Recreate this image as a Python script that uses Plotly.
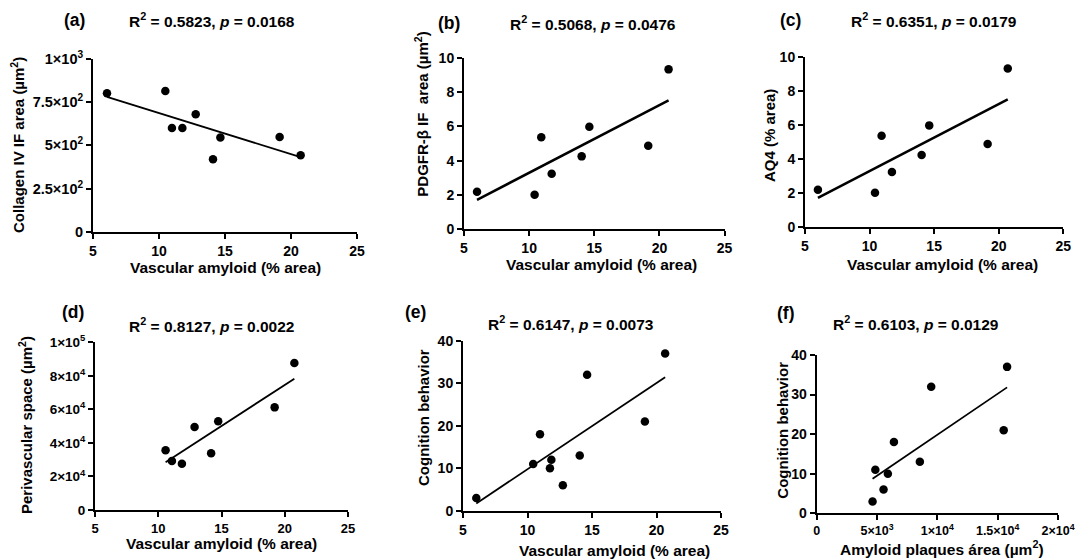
import numpy as np
import plotly.graph_objects as go

W, H = 1078, 560

# ---------------- data ----------------
vasc_a = [6.06, 10.48, 10.98, 11.77, 12.78, 14.09, 14.65, 19.14, 20.73]
collagen = [800, 814, 600, 600, 680, 420, 545, 548, 443]

vasc_b = [6.0, 10.42, 10.93, 11.73, 14.03, 14.62, 19.14, 20.7]
pdgfr = [2.19, 2.02, 5.36, 3.24, 4.25, 5.98, 4.87, 9.32]

vasc_c = [6.0, 10.42, 10.93, 11.73, 14.03, 14.62, 19.14, 20.7]
aq4 = [2.18, 2.0, 5.35, 3.22, 4.22, 5.96, 4.86, 9.3]

vasc_d = [10.58, 11.08, 11.87, 12.87, 14.18, 14.74, 19.2, 20.76]
perivascular = [35600, 29200, 27600, 49500, 33800, 52900, 61200, 87700]

vasc_e = [6.03, 10.44, 10.97, 11.74, 11.85, 12.74, 14.05, 14.62, 19.1, 20.67]
cognition_e = [3, 11, 18, 10, 12, 6, 13, 32, 21, 37]

plaques_f = [4630, 4860, 5540, 5900, 6400, 8550, 9490, 15500, 15780]
cognition_f = [3, 11, 6, 10, 18, 13, 32, 21, 37]

vasc_ticks = [5, 10, 15, 20, 25]
ticks_a = [0, 250, 500, 750, 1000]
ticklabels_a = ["0", "2.5×10<sup>2</sup>", "5×10<sup>2</sup>", "7.5×10<sup>2</sup>", "1×10<sup>3</sup>"]
ticks_10 = [0, 2, 4, 6, 8, 10]
ticks_d = [0, 20000, 40000, 60000, 80000, 100000]
ticklabels_d = ["0", "2×10<sup>4</sup>", "4×10<sup>4</sup>", "6×10<sup>4</sup>", "8×10<sup>4</sup>", "1×10<sup>5</sup>"]
ticks_40 = [0, 10, 20, 30, 40]
ticks_f = [0, 5000, 10000, 15000, 20000]
ticklabels_f = ["0", "5×10<sup>3</sup>", "1×10<sup>4</sup>", "1.5×10<sup>4</sup>", "2×10<sup>4</sup>"]

stats = ["R<sup>2</sup> = 0.5823, <i>p</i> = 0.0168",
         "R<sup>2</sup> = 0.5068, <i>p</i> = 0.0476",
         "R<sup>2</sup> = 0.6351, <i>p</i> = 0.0179",
         "R<sup>2</sup> = 0.8127, <i>p</i> = 0.0022",
         "R<sup>2</sup> = 0.6147, <i>p</i> = 0.0073",
         "R<sup>2</sup> = 0.6103, <i>p</i> = 0.0129"]
letters = ["(a)", "(b)", "(c)", "(d)", "(e)", "(f)"]
xtitles = ["Vascular amyloid (% area)"] * 5 + ["Amyloid plaques área (µm<sup>2</sup>)"]
ytitles = ["Collagen IV IF area (µm<sup>2</sup>)",
           "PDGFR-β IF  area (µm<sup>2</sup>)",
           "AQ4 (% area)",
           "Perivascular space (µm<sup>2</sup>)",
           "Cognition behavior",
           "Cognition behavior"]

# ---------------- layout geometry (pixels) ----------------
# plot area: (left, right, top, bottom)
boxes = [(93, 357, 58.7, 232), (464, 724.6, 57.7, 229.3), (805, 1063.3, 56.7, 226.7),
         (95, 348, 342.3, 510), (463, 721, 340.7, 510.7), (816.7, 1058, 355, 513.3)]
letter_pos = [(74, 20), (449, 23), (790, 20), (72.5, 311.7), (415.8, 311.7), (785.8, 313)]
stat_pos = [(211.7, 20), (593, 23), (934, 20), (211.7, 325), (570.8, 322.7), (915.8, 323)]
xt_pos = [(225, 267), (601, 264), (942.5, 264), (221.7, 543), (614, 550), (942.5, 548)]
yt_pos = [(18, 145), (421.7, 114), (769, 136), (25, 425), (423, 418), (781.7, 430)]
xtick_size = [14, 14, 14, 13, 14, 12.5]
ytick_size = [14.5, 14, 14, 13.5, 14, 14]
fit_width = [1.8, 2.5, 2.5, 1.8, 1.8, 1.8]

panels = [
    (vasc_a, collagen, [5, 25], vasc_ticks, None, [0, 1000], ticks_a, ticklabels_a),
    (vasc_b, pdgfr, [5, 25], vasc_ticks, None, [0, 10], ticks_10, None),
    (vasc_c, aq4, [5, 25], vasc_ticks, None, [0, 10], ticks_10, None),
    (vasc_d, perivascular, [5, 25], vasc_ticks, None, [0, 100000], ticks_d, ticklabels_d),
    (vasc_e, cognition_e, [5, 25], vasc_ticks, None, [0, 40], ticks_40, None),
    (plaques_f, cognition_f, [0, 20000], ticks_f, ticklabels_f, [0, 40], ticks_40, None),
]

FONT = "Arial, Liberation Sans, sans-serif"

def px_x(p):
    return p / W

def px_y(p):
    return 1 - p / H

fig = go.Figure()
annotations = []
layout_axes = {}

for i, (xs, ys, xr, xt, xtl, yr, yt, ytl) in enumerate(panels):
    n = i + 1
    xa = "x" if n == 1 else f"x{n}"
    ya = "y" if n == 1 else f"y{n}"
    fig.add_trace(go.Scatter(x=xs, y=ys, mode="markers", xaxis=xa, yaxis=ya,
                             marker=dict(color="black", size=8.5), showlegend=False,
                             cliponaxis=False))
    # linear regression line over the data range
    slope, icpt = np.polyfit(np.array(xs, float), np.array(ys, float), 1)
    lx = np.array([min(xs), max(xs)], float)
    fig.add_trace(go.Scatter(x=lx, y=slope * lx + icpt, mode="lines", xaxis=xa, yaxis=ya,
                             line=dict(color="black", width=fit_width[i]), showlegend=False))
    l, r, t, b = boxes[i]
    axcommon = dict(showline=True, linecolor="black", linewidth=2, ticks="outside",
                    ticklen=5, tickwidth=2, tickcolor="black", showgrid=False,
                    zeroline=False, mirror=False, automargin=False)
    xdict = dict(axcommon, domain=[px_x(l), px_x(r)], range=xr, anchor=ya,
                 tickmode="array", tickvals=xt,
                 tickfont=dict(family=FONT, size=xtick_size[i], color="black", weight="bold"))
    if xtl is not None:
        xdict["ticktext"] = xtl
    ydict = dict(axcommon, domain=[px_y(b), px_y(t)], range=yr, anchor=xa,
                 tickmode="array", tickvals=yt,
                 tickfont=dict(family=FONT, size=ytick_size[i], color="black", weight="bold"))
    if ytl is not None:
        ydict["ticktext"] = ytl
    layout_axes["xaxis" if n == 1 else f"xaxis{n}"] = xdict
    layout_axes["yaxis" if n == 1 else f"yaxis{n}"] = ydict

    def ann(text, pos, size, angle=0):
        annotations.append(dict(text=text, x=px_x(pos[0]), y=px_y(pos[1]),
                                xref="paper", yref="paper", xanchor="center",
                                yanchor="middle", showarrow=False, textangle=angle,
                                font=dict(family=FONT, size=size, color="black",
                                          weight="bold")))
    ann(letters[i], letter_pos[i], 17.5)
    ann(stats[i], stat_pos[i], 15.5)
    ann(xtitles[i], xt_pos[i], 15.5)
    ann(ytitles[i], yt_pos[i], 15, angle=-90)

fig.update_layout(width=W, height=H, margin=dict(l=0, r=0, t=0, b=0, autoexpand=False),
                  paper_bgcolor="white", plot_bgcolor="white", template="none",
                  annotations=annotations, **layout_axes)

fig.write_html("out.html", config={"displayModeBar": False},
               post_script="document.body.style.margin='0';document.body.style.overflow='hidden';")
